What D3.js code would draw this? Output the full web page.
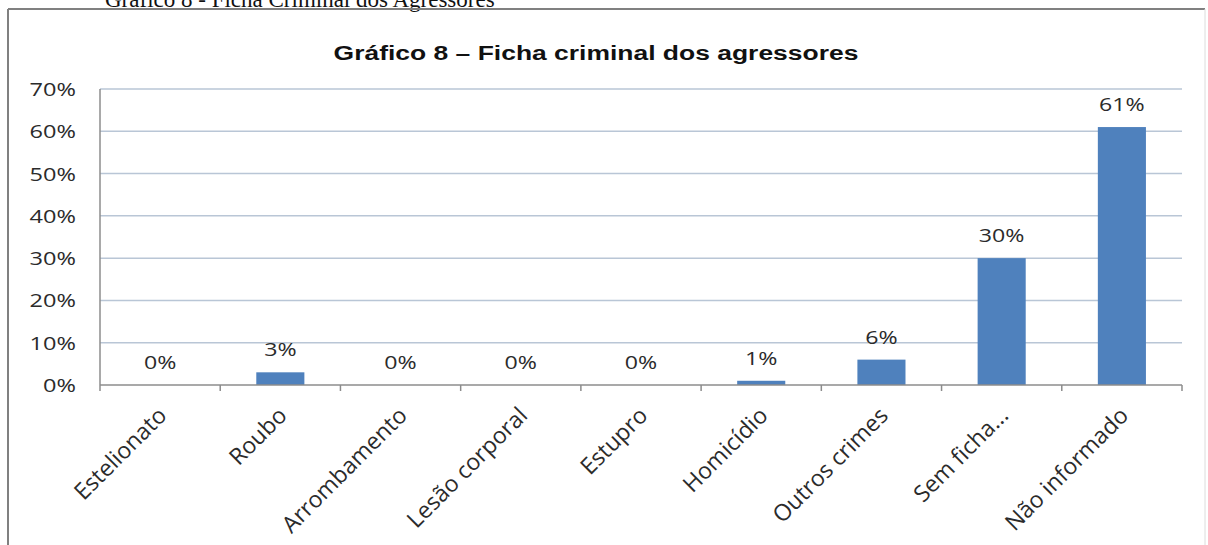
<!DOCTYPE html>
<html>
<head>
<meta charset="utf-8">
<script src="https://cdn.jsdelivr.net/npm/d3@7"></script>
<style>
  body { margin: 0; background: #fff; }
  svg { display: block; }
</style>
</head>
<body>
<svg id="chart"></svg>
<script>
// chart data
const categories = ["Estelionato", "Roubo", "Arrombamento", "Lesão corporal", "Estupro",
  "Homicídio", "Outros crimes", "Sem ficha...", "Não informado"];
const values = [0, 3, 0, 0, 0, 1, 6, 30, 61];
const yTicks = [0, 10, 20, 30, 40, 50, 60, 70];

const width = 1208, height = 545;
const margin = { top: 89, right: 26, bottom: 160, left: 100 };
const labelFont = "'Open Sans', sans-serif";

const svg = d3.select("#chart").attr("width", width).attr("height", height);

// page caption (cut off at the top, as in the scan)
svg.append("text")
  .attr("x", 105).attr("y", 7)
  .style("font", "23px 'Liberation Serif', serif")
  .attr("fill", "#111")
  .text("Gráfico 8 - Ficha Criminal dos Agressores");

// chart frame
svg.append("line").attr("x1", 8).attr("x2", 8).attr("y1", 9).attr("y2", height)
  .attr("stroke", "#808080").attr("stroke-width", 2);
svg.append("line").attr("x1", 8).attr("x2", 1205).attr("y1", 9).attr("y2", 9)
  .attr("stroke", "#808080").attr("stroke-width", 2);
svg.append("line").attr("x1", 1205).attr("x2", 1205).attr("y1", 9).attr("y2", height)
  .attr("stroke", "#dcdcdc").attr("stroke-width", 1);

// title
svg.append("text")
  .attr("transform", "translate(596,60) scale(1.26,1)")
  .attr("text-anchor", "middle")
  .style("font", "bold 21px 'Liberation Sans', Arial, sans-serif")
  .attr("fill", "#111")
  .text("Gráfico 8 – Ficha criminal dos agressores");

const x = d3.scaleBand()
  .domain(categories)
  .range([margin.left, width - margin.right])
  .paddingInner(0.6)
  .paddingOuter(0.3);

const y = d3.scaleLinear()
  .domain([0, 70])
  .range([height - margin.bottom, margin.top]);

// gridlines
svg.append("g")
  .selectAll("line")
  .data(yTicks.filter(d => d > 0))
  .join("line")
  .attr("x1", margin.left).attr("x2", width - margin.right)
  .attr("y1", d => y(d)).attr("y2", d => y(d))
  .attr("stroke", "#b9c6d6").attr("stroke-width", 1.5);

// y tick labels
svg.append("g")
  .selectAll("text")
  .data(yTicks)
  .join("text")
  .attr("transform", d => `translate(76,${y(d) + 7}) scale(1.24,1)`)
  .attr("text-anchor", "end")
  .style("font", `19px ${labelFont}`)
  .attr("fill", "#2b2b2b")
  .text(d => d + "%");

// bars
svg.append("g")
  .selectAll("rect")
  .data(values)
  .join("rect")
  .attr("x", (d, i) => x(categories[i]))
  .attr("width", x.bandwidth())
  .attr("y", d => y(d))
  .attr("height", d => y(0) - y(d))
  .attr("fill", "#4f81bd");

// value labels
svg.append("g")
  .selectAll("text")
  .data(values)
  .join("text")
  .attr("transform", (d, i) => `translate(${x(categories[i]) + x.bandwidth() / 2},${y(d) - 16}) scale(1.22,1)`)
  .attr("text-anchor", "middle")
  .style("font", `19px ${labelFont}`)
  .attr("fill", "#2b2b2b")
  .text(d => d + "%");

// axis lines
const x0 = margin.left, x1 = width - margin.right;
svg.append("line").attr("x1", x0).attr("x2", x1).attr("y1", y(0)).attr("y2", y(0))
  .attr("stroke", "#8c8c8c").attr("stroke-width", 1.5);
svg.append("line").attr("x1", x0).attr("x2", x0).attr("y1", y(70)).attr("y2", y(0))
  .attr("stroke", "#8c8c8c").attr("stroke-width", 1.5);

// x tick marks at band boundaries
svg.append("g")
  .selectAll("line")
  .data(d3.range(categories.length + 1))
  .join("line")
  .attr("x1", i => x0 + i * (x1 - x0) / categories.length)
  .attr("x2", i => x0 + i * (x1 - x0) / categories.length)
  .attr("y1", y(0)).attr("y2", y(0) + 6)
  .attr("stroke", "#8c8c8c").attr("stroke-width", 1.5);

// category labels, rotated
svg.append("g")
  .selectAll("text")
  .data(categories)
  .join("text")
  .attr("transform", d => `translate(${x(d) + x.bandwidth() / 2 + 8},${y(0) + 32}) rotate(-45)`)
  .attr("text-anchor", "end")
  .style("font", `23px ${labelFont}`)
  .attr("fill", "#2b2b2b")
  .text(d => d);
</script>
</body>
</html>
